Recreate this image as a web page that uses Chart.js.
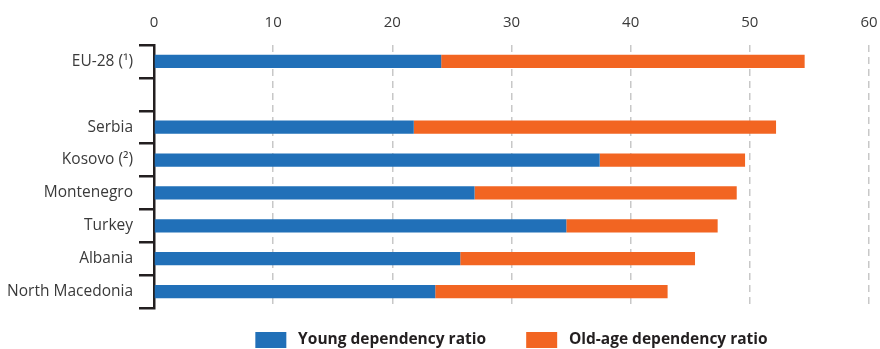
<!DOCTYPE html>
<html>
<head>
<meta charset="utf-8">
<script src="https://cdn.jsdelivr.net/npm/chart.js@4"></script>
<style>
  html, body { margin: 0; padding: 0; background: #fff; }
  #wrap { width: 880px; height: 349px; }
</style>
</head>
<body>
<div id="wrap"><canvas id="chart"></canvas></div>
<script>
const categories = ["EU-28 (\u00b9)", "", "Serbia", "Kosovo (\u00b2)", "Montenegro", "Turkey", "Albania", "North Macedonia"];
const youngRatio = [24.1, null, 21.8, 37.4, 26.9, 34.6, 25.7, 23.6];
const oldAgeRatio = [30.5, null, 30.4, 12.2, 22.0, 12.7, 19.7, 19.5];
const xTicks = [0, 10, 20, 30, 40, 50, 60];

const ctx = document.getElementById("chart").getContext("2d");

new Chart(ctx, {
  type: "bar",
  data: {
    labels: categories,
    datasets: [
      {
        label: " Young dependency ratio    ",
        data: youngRatio,
        backgroundColor: "#2170b8",
        categoryPercentage: 1,
        barPercentage: 0.4,
      },
      {
        label: " Old-age dependency ratio",
        data: oldAgeRatio,
        backgroundColor: "#f26522",
        categoryPercentage: 1,
        barPercentage: 0.4,
      },
    ],
  },
  options: {
    indexAxis: "y",
    responsive: true,
    maintainAspectRatio: false,
    animation: false,
    layout: { padding: { left: 0, right: 11, top: 0, bottom: -9 } },
    plugins: {
      tooltip: { enabled: false },
      legend: {
        position: "bottom",
        fullSize: false,
        labels: {
          boxWidth: 31,
          boxHeight: 16,
          padding: 24,
          color: "#231f20",
          font: { family: "'Open Sans'", size: 15.5, weight: "bold" },
        },
      },
    },
    scales: {
      x: {
        position: "top",
        stacked: true,
        min: 0,
        max: 60,
        afterBuildTicks: (scale) => {
          scale.ticks = xTicks.map((v) => ({ value: v }));
        },
        afterFit: (scale) => {
          scale.height = 45;
          scale.paddingRight = 0;
          scale.paddingLeft = 0;
        },
        grid: {
          drawTicks: false,
          color: (c) => (c.tick && c.tick.value === 0 ? "rgba(0,0,0,0)" : "#c8c8c8"),
          lineWidth: 1.5,
        },
        border: { display: false, dash: [7, 5] },
        ticks: {
          color: "#3a3a3a",
          padding: 13,
          font: { family: "'Open Sans'", size: 15 },
        },
      },
      y: {
        stacked: true,
        afterFit: (scale) => {
          scale.width = 154;
        },
        border: { display: true, color: "#231f20", width: 2.5 },
        grid: {
          offset: true,
          drawOnChartArea: false,
          drawTicks: true,
          tickLength: 15,
          color: "#231f20",
          lineWidth: 2.5,
        },
        ticks: {
          color: "#3a3a3a",
          padding: 6,
          font: { family: "'Open Sans'", size: 15.5 },
        },
      },
    },
  },
});
</script>
</body>
</html>
